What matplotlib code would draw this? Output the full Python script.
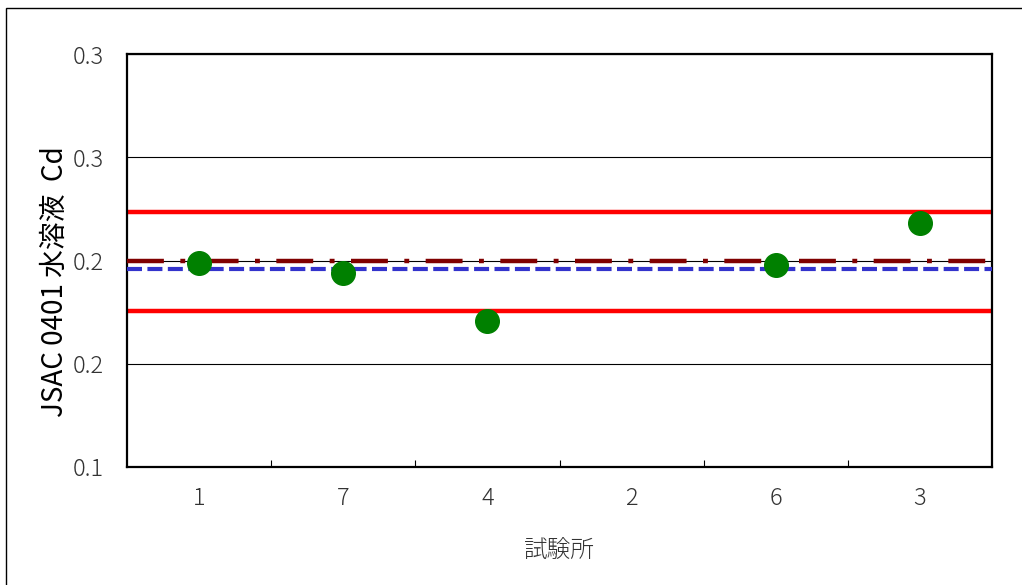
import matplotlib.pyplot as plt
import matplotlib.patches as mpatches
import numpy as np

plt.rcParams['font.family'] = ['Noto Sans CJK JP', 'DejaVu Sans']

# Laboratorios en el orden del gráfico y sus resultados (2 no reportó)
labs = ['1', '7', '4', '2', '6', '3']
resultados = [0.1987, 0.1939, 0.1708, np.nan, 0.1979, 0.2181]

# Líneas de referencia
valor_asignado = 0.1998
mediana = 0.1960
limite_sup = 0.2237
limite_inf = 0.1756

y_ticks = [0.10, 0.15, 0.20, 0.25, 0.30]
y_ticklabels = ['0.1', '0.2', '0.2', '0.3', '0.3']

fig = plt.figure(figsize=(10.22, 5.85), dpi=100)
ax = fig.add_axes([127 / 1022, 1 - 467 / 585, 865 / 1022, 413 / 585])

# Marco exterior (solo se ve arriba y a la izquierda)
fig.patches.append(mpatches.Rectangle((6 / 1022, -0.1), 1.2, 1 - 8 / 585 + 0.1,
                                      transform=fig.transFigure, fill=False,
                                      edgecolor='black', linewidth=1.0))

x = np.arange(len(labs))

ax.set_ylim(0.1, 0.3)
ax.set_xlim(-0.5, len(labs) - 0.5)
ax.set_yticks(y_ticks)
ax.set_yticklabels(y_ticklabels)
ax.yaxis.grid(True, color='black', linewidth=0.8)
ax.set_axisbelow(True)

ax.axhline(limite_sup, color='#ff0000', linewidth=3.2, zorder=2)
ax.axhline(limite_inf, color='#ff0000', linewidth=3.2, zorder=2)
ax.axhline(valor_asignado, color='#800000', linewidth=3.2,
           dashes=(8.3, 3.7, 1.1, 3.7), zorder=3)
ax.axhline(mediana, color='#3333cc', linewidth=3.0, dashes=(3.6, 1.3), zorder=3)

ax.plot(x, resultados, 'o', color='#008000', markersize=17, linestyle='none', zorder=4)

ax.set_xticks(x)
ax.set_xticklabels(labs)
ax.set_xticks(np.arange(0.5, len(labs) - 0.5, 1), minor=True)
ax.tick_params(axis='x', which='major', length=0, pad=14, labelsize=17, labelcolor='#333333')
ax.tick_params(axis='x', which='minor', direction='in', length=5, width=0.8)
ax.tick_params(axis='y', length=0, pad=17, labelsize=17, labelcolor='#333333')
for lbl in ax.get_xticklabels() + ax.get_yticklabels():
    lbl.set_fontweight('light')

for s in ax.spines.values():
    s.set_linewidth(1.6)

ax.set_ylabel('JSAC 0401 水溶液  Cd', fontsize=20)
ax.yaxis.set_label_coords(-0.066, 0.45)
ax.set_xlabel('試験所', fontsize=17, color='#333333', fontweight='light')
ax.xaxis.set_label_coords(0.5, -0.175)

fig.savefig('out.png', dpi=100)
